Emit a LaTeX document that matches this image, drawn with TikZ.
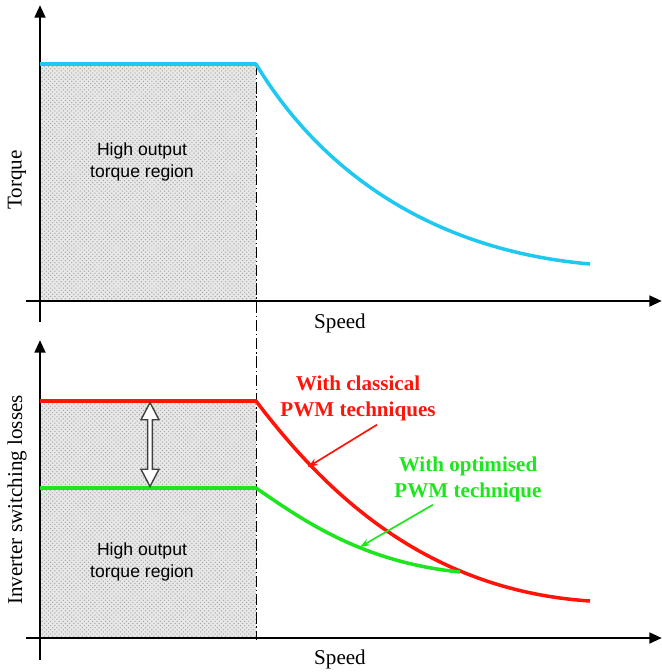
\documentclass[tikz,border=0pt]{standalone}
\usepackage{fontspec}
\setmainfont{Liberation Serif}
\newfontfamily\arialfont{Liberation Sans}
\usepackage{tikz}
\usetikzlibrary{patterns}
\usetikzlibrary{shapes.arrows}
\usetikzlibrary{arrows.meta}
\definecolor{cielo}{RGB}{30,200,240}
\definecolor{rosso}{RGB}{255,20,10}
\definecolor{verde}{RGB}{30,230,30}
\tikzstyle{asse} = [line width=2.1pt,-{Triangle[length=9pt,width=7.5pt]}]
\tikzstyle{regione} = [fill=black!9, postaction={pattern=crosshatch dots, pattern color=black!35}]
\tikzstyle{curva} = [line width=2.5pt, line join=round]
\tikzstyle{etichetta} = [font=\fontsize{15}{17}\selectfont]
\tikzstyle{zona} = [font=\arialfont\fontsize{12.5}{15.5}\selectfont, align=center]
\tikzstyle{nota} = [font=\bfseries\fontsize{15}{19}\selectfont, align=center, inner sep=0pt]
\tikzstyle{freccia} = [line width=1.2pt,-{Stealth[length=7pt,width=5pt]}]
\tikzstyle{doppia} = [double arrow, draw=black!75, fill=white, line width=1pt, shape border rotate=90,
  minimum height=2.1cm, minimum width=0.45cm, double arrow head extend=0.05cm, double arrow tip angle=55, inner sep=0pt]

\begin{document}
\begin{tikzpicture}[x=0.025cm,y=-0.025cm]
\useasboundingbox (0,0) rectangle (662,672);
% regioni a coppia elevata
\fill[regione] (40,64) rectangle (256,301);
\fill[regione] (40,401) rectangle (256,638);
\draw[line width=0.6pt, dash pattern=on 8pt off 2pt on 1pt off 2pt] (256,64) -- (256,640);
% assi
\draw[asse] (40,322) -- (40,5);
\draw[asse] (26,301) -- (662,301);
\draw[asse] (40,660) -- (40,340);
\draw[asse] (26,638) -- (662,638);
\node (t1) at (17,180) [etichetta, rotate=90] {Torque};
\node (t2) at (17,500) [etichetta, rotate=90] {Inverter switching losses};
\node (s1) at (340,323) [etichetta] {Speed};
\node (s2) at (340,659) [etichetta] {Speed};
\node (z1) at (142,162) [zona] {High output\\torque region};
\node (z2) at (142,562) [zona] {High output\\torque region};
% curve
\draw[curva, cielo] (40,64) -- (256,64) .. controls (320,170) and (430,250) .. (590,264);
\draw[curva, rosso] (40,401) -- (256,401) .. controls (320,485) and (420,590) .. (590,601);
\draw[curva, verde] (40,488) -- (256,488) .. controls (300,518) and (360,562) .. (460,572);
\node (gap) at (150,444.5) [doppia] {};
% note
\node (cl) at (358,398.5) [nota, text=rosso] {With classical\\PWM techniques};
\node (op) at (468,479.5) [nota, text=verde] {With optimised\\PWM technique};
\coordinate (clp) at (308,467);
\coordinate (opp) at (360,547);
\draw[freccia, rosso] ([shift={(19,3)}]cl.south) -- (clp);
\draw[freccia, verde] ([shift={(-35,2)}]op.south) -- (opp);
\end{tikzpicture}
\end{document}
